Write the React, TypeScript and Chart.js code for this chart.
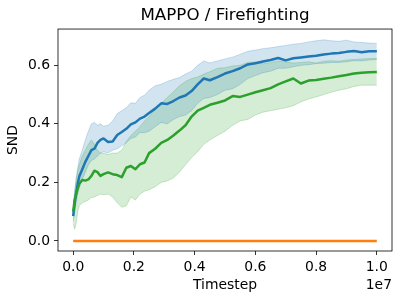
import React, { useEffect, useRef } from "react";
import { Chart, registerables } from "chart.js";

Chart.register(...registerables);

const TITLE = "MAPPO / Firefighting";
const X_LABEL = "Timestep";
const Y_LABEL = "SND";
const X_OFFSET_TEXT = "1e7";

// timesteps in units of 1e7
const STEPS_1E7 = [
  0, 0.005, 0.01, 0.015, 0.02, 0.03, 0.04, 0.05, 0.06, 0.07, 0.08, 0.09, 0.1,
  0.115, 0.13, 0.145, 0.16, 0.175, 0.19, 0.205, 0.22, 0.235, 0.25, 0.27, 0.29,
  0.31, 0.33, 0.35, 0.37, 0.39, 0.41, 0.43, 0.45, 0.475, 0.5, 0.525, 0.55,
  0.575, 0.6, 0.625, 0.65, 0.675, 0.7, 0.725, 0.75, 0.775, 0.8, 0.825, 0.85,
  0.875, 0.9, 0.925, 0.95, 0.975, 1.0,
];

const BLUE_MEAN = [
  0.085, 0.13, 0.165, 0.195, 0.22, 0.245, 0.27, 0.29, 0.31, 0.315, 0.335, 0.345,
  0.35, 0.338, 0.34, 0.362, 0.372, 0.383, 0.398, 0.405, 0.418, 0.425, 0.437,
  0.452, 0.47, 0.468, 0.478, 0.49, 0.497, 0.512, 0.535, 0.555, 0.549, 0.56,
  0.572, 0.58, 0.59, 0.603, 0.607, 0.613, 0.618, 0.625, 0.617, 0.624, 0.627,
  0.63, 0.633, 0.637, 0.64, 0.642, 0.646, 0.649, 0.645, 0.648, 0.648,
];
const BLUE_HIGH = [
  0.1, 0.17, 0.215, 0.25, 0.28, 0.31, 0.345, 0.375, 0.4, 0.405, 0.395, 0.4,
  0.392, 0.395, 0.41, 0.435, 0.445, 0.455, 0.472, 0.47, 0.49, 0.498, 0.515,
  0.53, 0.535, 0.545, 0.552, 0.558, 0.57, 0.58, 0.6, 0.615, 0.608, 0.615,
  0.622, 0.628, 0.638, 0.648, 0.652, 0.657, 0.66, 0.664, 0.668, 0.672, 0.675,
  0.68, 0.684, 0.687, 0.684, 0.682, 0.686, 0.68, 0.678, 0.676, 0.675,
];
const BLUE_LOW = [
  0.065, 0.1, 0.13, 0.16, 0.18, 0.21, 0.235, 0.26, 0.275, 0.28, 0.29, 0.3,
  0.305, 0.3, 0.31, 0.315, 0.325, 0.335, 0.35, 0.355, 0.37, 0.37, 0.375, 0.39,
  0.405, 0.4, 0.415, 0.425, 0.43, 0.445, 0.47, 0.487, 0.49, 0.5, 0.515, 0.52,
  0.535, 0.555, 0.565, 0.575, 0.58, 0.59, 0.59, 0.595, 0.6, 0.602, 0.606,
  0.607, 0.61, 0.61, 0.612, 0.616, 0.615, 0.618, 0.62,
];

const GREEN_MEAN = [
  0.1, 0.14, 0.16, 0.18, 0.195, 0.208, 0.206, 0.21, 0.222, 0.24, 0.235, 0.222,
  0.228, 0.234, 0.228, 0.225, 0.218, 0.25, 0.256, 0.245, 0.262, 0.268, 0.3,
  0.315, 0.335, 0.345, 0.36, 0.377, 0.395, 0.425, 0.445, 0.455, 0.465, 0.472,
  0.48, 0.495, 0.492, 0.5, 0.508, 0.515, 0.522, 0.535, 0.545, 0.555, 0.538,
  0.548, 0.55, 0.554, 0.558, 0.563, 0.567, 0.572, 0.575, 0.576, 0.577,
];
const GREEN_HIGH = [
  0.12, 0.17, 0.21, 0.24, 0.26, 0.29, 0.31, 0.33, 0.345, 0.33, 0.31, 0.3, 0.3,
  0.295, 0.3, 0.3, 0.31, 0.34, 0.36, 0.375, 0.39, 0.41, 0.425, 0.45, 0.47,
  0.49, 0.51, 0.53, 0.545, 0.555, 0.56, 0.57, 0.578, 0.59, 0.592, 0.598, 0.6,
  0.61, 0.612, 0.605, 0.61, 0.615, 0.612, 0.608, 0.61, 0.612, 0.608, 0.614,
  0.616, 0.614, 0.618, 0.62, 0.622, 0.623, 0.624,
];
const GREEN_LOW = [
  0.06, 0.04, 0.06, 0.1, 0.12, 0.13, 0.135, 0.14, 0.148, 0.15, 0.155, 0.16,
  0.158, 0.16, 0.15, 0.13, 0.115, 0.12, 0.15, 0.14, 0.16, 0.17, 0.175, 0.185,
  0.2, 0.205, 0.215, 0.235, 0.26, 0.285, 0.305, 0.33, 0.345, 0.36, 0.375,
  0.395, 0.41, 0.415, 0.43, 0.44, 0.445, 0.45, 0.455, 0.462, 0.475, 0.485,
  0.492, 0.5, 0.508, 0.515, 0.52, 0.528, 0.532, 0.532, 0.532,
];

const ORANGE_STEPS_1E7 = [0, 0.25, 0.5, 0.75, 1.0];
const ORANGE_MEAN = [0, 0, 0, 0, 0];

const X_TICKS_1E7 = [0, 0.2, 0.4, 0.6, 0.8, 1.0];
const Y_TICKS = [0, 0.2, 0.4, 0.6];
const X_MIN_1E7 = -0.05;
const X_MAX_1E7 = 1.05;
const Y_MIN = -0.0345;
const Y_MAX = 0.724;

const FONT_FAMILY = "'DejaVu Sans', sans-serif";

export default function App() {
  const ref = useRef<HTMLCanvasElement>(null);

  useEffect(() => {
    document.body.style.margin = "0";
    const canvas = ref.current;
    if (!canvas) return;

    const pts = (ys: number[], xs: number[] = STEPS_1E7) =>
      ys.map((y, i) => ({ x: xs[i] * 1e7, y }));

    const bandSets = (name: string, lo: number[], hi: number[], rgb: string) => [
      {
        label: name + " low",
        data: pts(lo),
        borderColor: `rgba(${rgb},0.22)`,
        borderWidth: 1,
        pointRadius: 0,
        fill: false,
        tension: 0,
        order: 10,
      },
      {
        label: name + " high",
        data: pts(hi),
        borderColor: `rgba(${rgb},0.22)`,
        backgroundColor: `rgba(${rgb},0.2)`,
        borderWidth: 1,
        pointRadius: 0,
        fill: "-1",
        tension: 0,
        order: 10,
      },
    ];

    const lineSet = (name: string, data: any[], color: string, order: number) => ({
      label: name,
      data,
      borderColor: color,
      backgroundColor: color,
      borderWidth: 2.5,
      pointRadius: 0,
      fill: false,
      tension: 0,
      borderJoinStyle: "round" as const,
      order,
    });

    const tickFont = { family: FONT_FAMILY, size: 13.9 };

    const framePlugin = {
      id: "frame",
      afterDraw(chart: any) {
        const { ctx, chartArea: a } = chart;
        ctx.save();
        ctx.strokeStyle = "#000";
        ctx.lineWidth = 0.8;
        ctx.strokeRect(a.left, a.top, a.right - a.left, a.bottom - a.top);
        ctx.fillStyle = "#000";
        ctx.font = `13.9px ${FONT_FAMILY}`;
        ctx.textAlign = "right";
        ctx.textBaseline = "middle";
        ctx.fillText(X_OFFSET_TEXT, a.right, 285);
        ctx.restore();
      },
    };

    const chart = new Chart(canvas, {
      type: "line",
      data: {
        datasets: [
          ...bandSets("blue", BLUE_LOW, BLUE_HIGH, "31,119,180"),
          ...bandSets("green", GREEN_LOW, GREEN_HIGH, "44,160,44"),
          lineSet("blue", pts(BLUE_MEAN), "#1f77b4", 3),
          lineSet("orange", pts(ORANGE_MEAN, ORANGE_STEPS_1E7), "#ff7f0e", 2),
          lineSet("green", pts(GREEN_MEAN), "#2ca02c", 1),
        ] as any,
      },
      options: {
        responsive: false,
        animation: false,
        devicePixelRatio: 1,
        layout: { padding: { left: 0, right: 8, top: 0, bottom: 0 } },
        plugins: {
          legend: { display: false },
          tooltip: { enabled: false },
          filler: { drawTime: "beforeDatasetsDraw" },
          title: {
            display: true,
            text: TITLE,
            fullSize: false,
            color: "#000",
            font: { family: FONT_FAMILY, size: 16.7, weight: "normal" },
            padding: { top: 6, bottom: 3 },
          },
        } as any,
        scales: {
          x: {
            type: "linear",
            min: X_MIN_1E7 * 1e7,
            max: X_MAX_1E7 * 1e7,
            afterFit: (s: any) => {
              s.height = 49;
            },
            afterBuildTicks: (s: any) => {
              s.ticks = X_TICKS_1E7.map((v) => ({ value: v * 1e7 }));
            },
            ticks: {
              callback: (v: any) => (Number(v) / 1e7).toFixed(1),
              color: "#000",
              font: tickFont,
              padding: 4,
              maxRotation: 0,
              autoSkip: false,
            },
            grid: {
              drawOnChartArea: false,
              drawTicks: true,
              tickLength: 4,
              tickColor: "#000",
              tickWidth: 0.8,
              color: "#000",
            },
            border: { display: false },
            title: {
              display: true,
              text: X_LABEL,
              color: "#000",
              font: tickFont,
              padding: { top: 0, bottom: 6.5 },
            },
          },
          y: {
            type: "linear",
            min: Y_MIN,
            max: Y_MAX,
            afterFit: (s: any) => {
              s.width = 58;
            },
            afterBuildTicks: (s: any) => {
              s.ticks = Y_TICKS.map((v) => ({ value: v }));
            },
            ticks: {
              callback: (v: any) => Number(v).toFixed(1),
              color: "#000",
              font: tickFont,
              padding: 4,
              autoSkip: false,
            },
            grid: {
              drawOnChartArea: false,
              drawTicks: true,
              tickLength: 4,
              tickColor: "#000",
              tickWidth: 0.8,
              color: "#000",
            },
            border: { display: false },
            title: {
              display: true,
              text: Y_LABEL,
              color: "#000",
              font: tickFont,
              padding: { top: 5.5, bottom: 0 },
            },
          },
        },
      } as any,
      plugins: [framePlugin],
    });

    return () => chart.destroy();
  }, []);

  return (
    <div style={{ position: "absolute", left: 0, top: 0, width: 400, height: 300 }}>
      <canvas ref={ref} width={400} height={300} />
    </div>
  );
}
